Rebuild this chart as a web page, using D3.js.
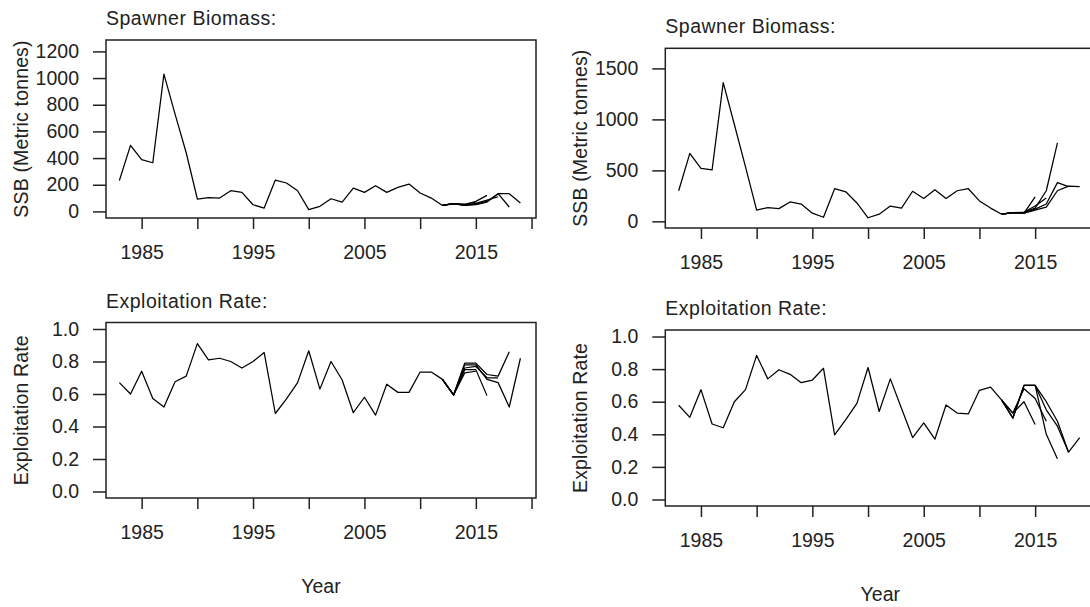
<!DOCTYPE html>
<html>
<head>
<meta charset="utf-8">
<script src="https://cdn.jsdelivr.net/npm/d3@7"></script>
<style>
  html, body { margin: 0; padding: 0; background: #fff; }
  svg text { font-family: "Liberation Sans", Arial, sans-serif; fill: #222; }
</style>
</head>
<body>
<svg id="chart" width="1090" height="607"></svg>
<script>
// Assessment years
const years = [1983, 1984, 1985, 1986, 1987, 1988, 1989, 1990, 1991, 1992,
               1993, 1994, 1995, 1996, 1997, 1998, 1999, 2000, 2001, 2002,
               2003, 2004, 2005, 2006, 2007, 2008, 2009, 2010, 2011, 2012,
               2013, 2014, 2015, 2016, 2017, 2018, 2019];

// Model A: spawner biomass (t) and exploitation rate, full time series
const ssbA = [232, 495, 388, 365, 1030, 730, 440, 93, 103, 100,
              155, 143, 50, 25, 235, 213, 155, 13, 38, 95,
              70, 175, 143, 193, 143, 180, 205, 138, 100, 45,
              58, 45, 55, 75, 133, 133, 63];
const erA = [0.67, 0.60, 0.74, 0.573, 0.52, 0.675, 0.71, 0.91, 0.81, 0.82,
             0.80, 0.76, 0.80, 0.855, 0.48, 0.57, 0.67, 0.866, 0.63, 0.80,
             0.686, 0.485, 0.58, 0.47, 0.66, 0.61, 0.61, 0.735, 0.735, 0.69,
             0.594, 0.78, 0.78, 0.69, 0.67, 0.52, 0.82];

// Model B: spawner biomass (t) and exploitation rate, full time series
const ssbB = [300, 667, 520, 505, 1360, 950, 535, 110, 135, 125,
              190, 170, 80, 40, 320, 290, 180, 35, 70, 150,
              130, 295, 225, 310, 225, 300, 320, 200, 130, 70,
              85, 80, 110, 140, 300, 345, 340];
const erB = [0.578, 0.504, 0.674, 0.463, 0.44, 0.60, 0.674, 0.884, 0.74, 0.796,
             0.768, 0.717, 0.733, 0.805, 0.396, 0.49, 0.59, 0.81, 0.54, 0.74,
             0.56, 0.38, 0.47, 0.37, 0.58, 0.53, 0.525, 0.67, 0.69, 0.61,
             0.50, 0.70, 0.70, 0.55, 0.45, 0.29, 0.38];

// Retrospective peels: values from peelStart to each peel's terminal year
const peelStart = 2012;
const ssbA_2018 = [45, 58, 45, 50, 70, 133, 33];
const ssbA_2017 = [45, 58, 48, 60, 85, 110];
const ssbA_2016 = [45, 58, 50, 75, 120];
const ssbA_2015 = [45, 58, 55, 70];
const erA_2018 = [0.69, 0.594, 0.79, 0.79, 0.72, 0.71, 0.86];
const erA_2017 = [0.69, 0.594, 0.76, 0.77, 0.70, 0.70];
const erA_2016 = [0.69, 0.594, 0.75, 0.75, 0.59];
const erA_2015 = [0.69, 0.594, 0.73, 0.74];
const ssbB_2018 = [70, 85, 80, 120, 170, 380, 340];
const ssbB_2017 = [70, 85, 85, 130, 300, 770];
const ssbB_2016 = [70, 85, 90, 150, 230];
const ssbB_2015 = [70, 85, 80, 240];
const erB_2018 = [0.61, 0.50, 0.70, 0.70, 0.60, 0.48, 0.29];
const erB_2017 = [0.61, 0.50, 0.70, 0.70, 0.40, 0.25];
const erB_2016 = [0.61, 0.53, 0.68, 0.62, 0.48];
const erB_2015 = [0.61, 0.53, 0.60, 0.46];

// Axis ticks
const yearTicks = [1985, 1990, 1995, 2000, 2005, 2010, 2015, 2020];
const yearLabels = [1985, 1995, 2005, 2015];
const ssbTicksA = [0, 200, 400, 600, 800, 1000, 1200];
const ssbTicksB = [0, 500, 1000, 1500];
const erTicks = [0, 0.2, 0.4, 0.6, 0.8, 1.0];

const svg = d3.select("#chart");
svg.append("rect").attr("width", 1090).attr("height", 607).attr("fill", "#fff");

const FONT = 19.5;
const INK = "#222";
const FAMILY = '"Liberation Sans", Arial, sans-serif';

function peelSeries(vals) {
  return vals.map((v, i) => ({ year: peelStart + i, value: v }));
}

function panel(cfg) {
  const { left, right, top, bottom } = cfg.box;
  const x = d3.scaleLinear().domain([1981.8, 2020.4]).range([left, right]);
  const pad = 0.04 * cfg.ymax;
  const y = d3.scaleLinear().domain([-pad, cfg.ymax + pad]).range([bottom, top]);

  const g = svg.append("g");

  // Series lines: full run plus retrospective peels
  const line = d3.line().x(d => x(d.year)).y(d => y(d.value));
  const main = years.map((yr, i) => ({ year: yr, value: cfg.main[i] }));
  cfg.peels.forEach(p => {
    g.append("path").datum(peelSeries(p)).attr("d", line)
      .attr("fill", "none").attr("stroke", "#000").attr("stroke-width", 1.25)
      .attr("stroke-linejoin", "round");
  });
  g.append("path").datum(main).attr("d", line)
    .attr("fill", "none").attr("stroke", "#000").attr("stroke-width", 1.25)
    .attr("stroke-linejoin", "round");

  // Plot frame
  g.append("rect").attr("x", left).attr("y", top)
    .attr("width", right - left).attr("height", bottom - top)
    .attr("fill", "none").attr("stroke", INK).attr("stroke-width", 1.5);

  // Y axis
  const yAxis = d3.axisLeft(y).tickValues(cfg.yticks).tickSize(13).tickPadding(14)
    .tickFormat(cfg.yfmt);
  const ya = g.append("g").attr("transform", `translate(${left},0)`).call(yAxis);
  ya.select(".domain").remove();
  ya.selectAll(".tick line").attr("stroke", INK).attr("stroke-width", 1.5);
  ya.selectAll(".tick text").attr("font-size", FONT).attr("fill", INK)
    .attr("font-family", FAMILY);

  // X axis
  const xAxis = d3.axisBottom(x).tickValues(yearTicks).tickSize(11).tickPadding(16)
    .tickFormat(d => yearLabels.includes(d) ? String(d) : "");
  const xa = g.append("g").attr("transform", `translate(0,${bottom})`).call(xAxis);
  xa.select(".domain").remove();
  xa.selectAll(".tick line").attr("stroke", INK).attr("stroke-width", 1.5);
  xa.selectAll(".tick text").attr("font-size", FONT).attr("fill", INK)
    .attr("font-family", FAMILY);

  // Panel title
  g.append("text").attr("x", left).attr("y", top - 15)
    .attr("font-size", FONT).attr("letter-spacing", 0.5).text(cfg.title);

  // Y label
  g.append("text")
    .attr("transform", `translate(${left - 78},${(top + bottom) / 2}) rotate(-90)`)
    .attr("text-anchor", "middle").attr("font-size", FONT)
    .attr("letter-spacing", 0.15).text(cfg.ylabel);

  if (cfg.xlabel) {
    g.append("text").attr("x", (left + right) / 2).attr("y", bottom + 95)
      .attr("text-anchor", "middle").attr("font-size", FONT).text(cfg.xlabel);
  }
}

const ssbFmt = d => String(d);
const erFmt = d3.format(".1f");

panel({
  box: { left: 106, right: 536, top: 40, bottom: 218 },
  main: ssbA, peels: [ssbA_2015, ssbA_2016, ssbA_2017, ssbA_2018],
  ymax: 1.2 * d3.max(ssbA), yticks: ssbTicksA, yfmt: ssbFmt,
  title: "Spawner Biomass:", ylabel: "SSB (Metric tonnes)"
});
panel({
  box: { left: 106, right: 536, top: 322.5, bottom: 498 },
  main: erA, peels: [erA_2015, erA_2016, erA_2017, erA_2018],
  ymax: 1.0, yticks: erTicks, yfmt: erFmt,
  title: "Exploitation Rate:", ylabel: "Exploitation Rate", xlabel: "Year"
});
panel({
  box: { left: 665.3, right: 1095.3, top: 48.3, bottom: 228 },
  main: ssbB, peels: [ssbB_2015, ssbB_2016, ssbB_2017, ssbB_2018],
  ymax: 1.2 * d3.max(ssbB), yticks: ssbTicksB, yfmt: ssbFmt,
  title: "Spawner Biomass:", ylabel: "SSB (Metric tonnes)"
});
panel({
  box: { left: 665.3, right: 1095.3, top: 330, bottom: 506 },
  main: erB, peels: [erB_2015, erB_2016, erB_2017, erB_2018],
  ymax: 1.0, yticks: erTicks, yfmt: erFmt,
  title: "Exploitation Rate:", ylabel: "Exploitation Rate", xlabel: "Year"
});
</script>
</body>
</html>
